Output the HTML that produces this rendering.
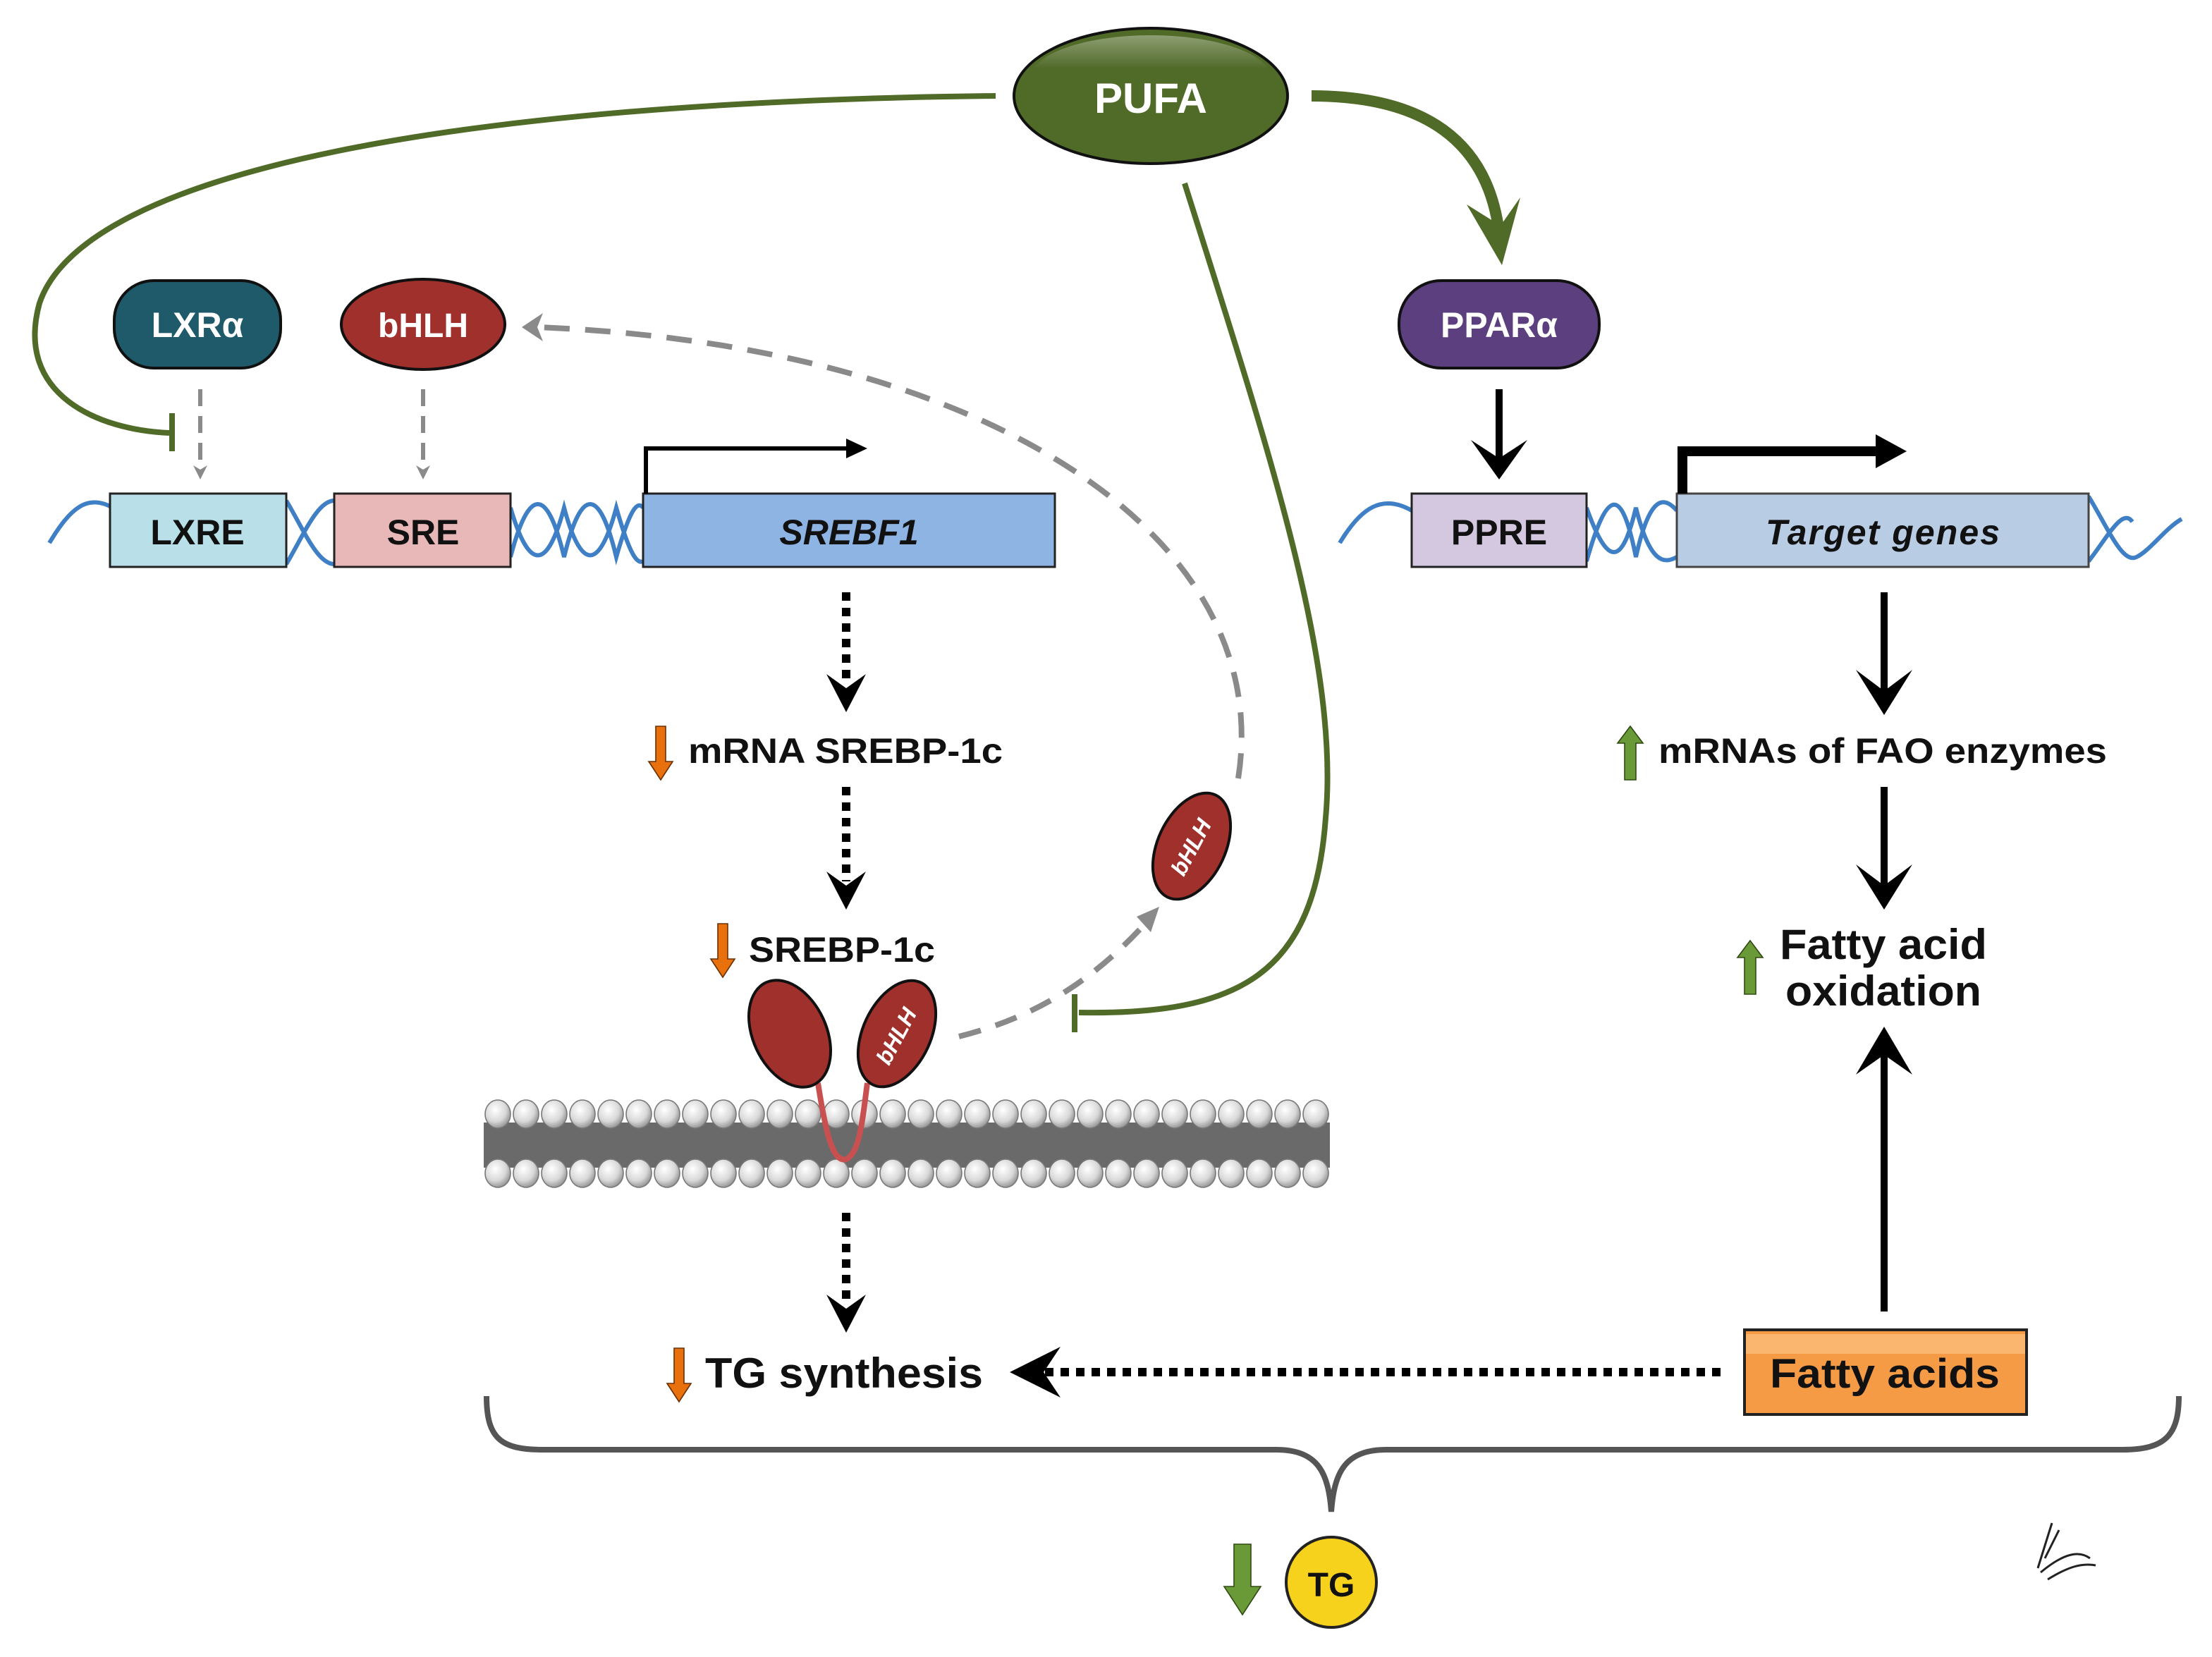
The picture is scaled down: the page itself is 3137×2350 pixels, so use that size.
<!DOCTYPE html>
<html><head><meta charset="utf-8"><style>
html,body{margin:0;padding:0;background:#fff;}
svg{display:block;}
text{font-family:"Liberation Sans",Arial,sans-serif;font-weight:bold;}
</style></head><body>
<svg width="3137" height="2350" viewBox="0 0 1568.5 1175" xmlns="http://www.w3.org/2000/svg">
<defs>
<radialGradient id="ball" cx="0.4" cy="0.35" r="0.7"><stop offset="0" stop-color="#fff"/><stop offset="0.6" stop-color="#d8d8d8"/><stop offset="1" stop-color="#8a8a8a"/></radialGradient>
<ellipse id="b" cx="0" cy="0" rx="9" ry="10" fill="url(#ball)" stroke="#777" stroke-width="0.8"/>
<linearGradient id="shine" x1="0" y1="0" x2="0" y2="1"><stop offset="0" stop-color="#fff" stop-opacity="0.35"/><stop offset="0.4" stop-color="#fff" stop-opacity="0"/></linearGradient>
<marker id="ga" markerWidth="10" markerHeight="10" refX="5" refY="5" orient="auto" markerUnits="userSpaceOnUse"><path d="M0,0 L10,5 L0,10 L3,5z" fill="#8a8a8a"/></marker>
</defs>

<path d="M706,68 C 330,72 60,120 28,215 C 10,280 70,305 120,307" fill="none" stroke="#506a28" stroke-width="4"/>
<line x1="122" y1="293" x2="122" y2="320" stroke="#506a28" stroke-width="4"/>
<path d="M840,130 C 900,320 950,470 940,580 C 932,690 880,720 765,718" fill="none" stroke="#506a28" stroke-width="4"/>
<line x1="762" y1="705" x2="762" y2="732" stroke="#506a28" stroke-width="4"/>
<path d="M930,68 C 1010,68 1055,100 1063,165" fill="none" stroke="#506a28" stroke-width="8"/>
<path d="M1040,145 L1065,188 L1078,140 L1064,160z" fill="#506a28"/>

<ellipse cx="816" cy="68" rx="97" ry="48" fill="#506a28" stroke="#111" stroke-width="2"/>
<ellipse cx="816" cy="55" rx="85" ry="30" fill="url(#shine)"/>
<text x="816" y="80" font-size="30" fill="#fff" text-anchor="middle">PUFA</text>

<rect x="81" y="199" width="118" height="62" rx="28" fill="#1e5a6a" stroke="#111" stroke-width="2"/>
<text x="140" y="239" font-size="25" fill="#fff" text-anchor="middle">LXRα</text>
<ellipse cx="300" cy="230" rx="58" ry="32" fill="#a0302c" stroke="#111" stroke-width="2"/>
<text x="300" y="239" font-size="24" fill="#fff" text-anchor="middle">bHLH</text>
<rect x="992" y="199" width="142" height="62" rx="30" fill="#5b3f7e" stroke="#111" stroke-width="2"/>
<text x="1063" y="239" font-size="25" fill="#fff" text-anchor="middle">PPARα</text>

<line x1="142" y1="276" x2="142" y2="335" stroke="#8a8a8a" stroke-width="3" stroke-dasharray="12,7" marker-end="url(#ga)"/>
<line x1="300" y1="276" x2="300" y2="335" stroke="#8a8a8a" stroke-width="3" stroke-dasharray="12,7" marker-end="url(#ga)"/>
<path d="M878,552 C 905,380 700,245 382,232" fill="none" stroke="#8a8a8a" stroke-width="4" stroke-dasharray="18,11"/>
<path d="M385,222 L370,232 L385,242 L381,232z" fill="#8a8a8a"/>
<path d="M680,735 C 740,720 780,690 812,655" fill="none" stroke="#8a8a8a" stroke-width="4" stroke-dasharray="16,11"/>
<path d="M806,650 L822,643 L816,661z" fill="#8a8a8a"/>

<g fill="none" stroke="#3f7fc5" stroke-width="3">
<path d="M35,385 C 50,360 62,350 80,360"/>
<path d="M203,355 C 215,375 225,400 237,400 M203,400 C 215,380 225,355 237,355"/>
<path d="M362,395 C 375,345 388,345 400,395 C 412,345 425,345 437,395 C 447,360 452,355 456,360 M362,360 C 375,405 388,405 400,360 C 412,405 425,405 437,360 C 447,395 452,400 456,398"/>
<path d="M950,385 C 965,360 980,350 1001,362"/>
<path d="M1125,398 C 1140,345 1150,345 1160,395 C 1170,350 1180,352 1189,362 M1125,360 C 1140,402 1150,402 1160,360 C 1170,400 1180,400 1189,395"/>
<path d="M1481,352 C 1495,375 1505,400 1515,395 C 1525,390 1535,375 1547,368 M1481,398 C 1495,380 1505,360 1512,370"/>
</g>
<rect x="78" y="350" width="125" height="52" fill="#b9e0e8" stroke="#222" stroke-width="1.5"/>
<text x="140" y="386" font-size="25" fill="#111" text-anchor="middle">LXRE</text>
<rect x="237" y="350" width="125" height="52" fill="#e8b8b8" stroke="#222" stroke-width="1.5"/>
<text x="300" y="386" font-size="25" fill="#111" text-anchor="middle">SRE</text>
<rect x="456" y="350" width="292" height="52" fill="#8db4e3" stroke="#222" stroke-width="1.5"/>
<text x="602" y="386" font-size="25" fill="#111" font-style="italic" text-anchor="middle">SREBF1</text>
<rect x="1001" y="350" width="124" height="52" fill="#d4c8e0" stroke="#222" stroke-width="1.5"/>
<text x="1063" y="386" font-size="25" fill="#111" text-anchor="middle">PPRE</text>
<rect x="1189" y="350" width="292" height="52" fill="#b8cce4" stroke="#444" stroke-width="1.5"/>
<text x="1335" y="386" font-size="25" fill="#111" font-style="italic" text-anchor="middle" textLength="166">Target genes</text>

<path d="M458,350 V318 H604" fill="none" stroke="#000" stroke-width="3"/>
<path d="M600,311 L615,318 L600,325z" fill="#000"/>
<path d="M1193,350 V320 H1335" fill="none" stroke="#000" stroke-width="7"/>
<path d="M1330,308 L1352,320 L1330,332z" fill="#000"/>

<g stroke="#000" stroke-width="5" fill="none">
<line x1="1063" y1="276" x2="1063" y2="325"/>
<line x1="1336" y1="420" x2="1336" y2="495"/>
<line x1="1336" y1="558" x2="1336" y2="632"/>
<line x1="1336" y1="930" x2="1336" y2="745"/>
</g>
<path d="M1043,312 L1063,340 L1083,312 L1063,325z" fill="#000"/>
<path d="M1316,475 L1336,507 L1356,475 L1336,490z" fill="#000"/>
<path d="M1316,613 L1336,645 L1356,613 L1336,628z" fill="#000"/>
<path d="M1316,762 L1336,728 L1356,762 L1336,748z" fill="#000"/>

<g stroke="#000" stroke-width="6" stroke-dasharray="6,5" fill="none">
<line x1="600" y1="420" x2="600" y2="485"/>
<line x1="600" y1="558" x2="600" y2="625"/>
<line x1="600" y1="860" x2="600" y2="925"/>
<line x1="1220" y1="973" x2="740" y2="973"/>
</g>
<path d="M586,478 L600,505 L614,478 L600,488z" fill="#000"/>
<path d="M586,618 L600,645 L614,618 L600,628z" fill="#000"/>
<path d="M586,918 L600,945 L614,918 L600,928z" fill="#000"/>
<path d="M752,955 L716,973 L752,991 L740,973z" fill="#000"/>

<g fill="#e8710e" stroke="#6a3000" stroke-width="0.8">
<path d="M465,515 h7 v25 h5 l-8.5,13 l-8.5,-13 h5z"/>
<path d="M509,655 h7 v25 h5 l-8.5,13 l-8.5,-13 h5z"/>
<path d="M478,956 h7 v25 h5 l-8.5,13 l-8.5,-13 h5z"/>
</g>
<g fill="#6a9a38" stroke="#2f4a10" stroke-width="0.8">
<path d="M1152,553 h8 v-26 h5 l-9,-12 l-9,12 h5z"/>
<path d="M1237,705 h8 v-26 h5 l-9,-12 l-9,12 h5z"/>
<path d="M875,1095 h12 v30 h7 l-13,20 l-13,-20 h7z"/>
</g>
<text x="488" y="541" font-size="25" fill="#111" textLength="223" lengthAdjust="spacingAndGlyphs">mRNA SREBP-1c</text>
<text x="531" y="682" font-size="25" fill="#111" textLength="132" lengthAdjust="spacingAndGlyphs">SREBP-1c</text>
<text x="1176" y="541" font-size="25" fill="#111" textLength="318" lengthAdjust="spacingAndGlyphs">mRNAs of FAO enzymes</text>
<text x="1262" y="680" font-size="30" fill="#111" textLength="147" lengthAdjust="spacingAndGlyphs">Fatty acid</text>
<text x="1266" y="713" font-size="30" fill="#111" textLength="139" lengthAdjust="spacingAndGlyphs">oxidation</text>
<text x="500" y="984" font-size="30" fill="#111" textLength="197" lengthAdjust="spacingAndGlyphs">TG synthesis</text>

<rect x="1237" y="943" width="200" height="60" fill="#f59a45" stroke="#222" stroke-width="2"/>
<rect x="1238" y="946" width="198" height="14" fill="#fcc280" opacity="0.7"/>
<text x="1255" y="984" font-size="29" fill="#111" textLength="163" lengthAdjust="spacingAndGlyphs">Fatty acids</text>

<!-- membrane -->
<rect x="343" y="796" width="600" height="32" fill="#6a6a6a"/>
<g transform="translate(0,790)">
<use href="#b" x="353"/><use href="#b" x="373"/><use href="#b" x="393"/><use href="#b" x="413"/><use href="#b" x="433"/><use href="#b" x="453"/><use href="#b" x="473"/><use href="#b" x="493"/><use href="#b" x="513"/><use href="#b" x="533"/><use href="#b" x="553"/><use href="#b" x="573"/><use href="#b" x="593"/><use href="#b" x="613"/><use href="#b" x="633"/><use href="#b" x="653"/><use href="#b" x="673"/><use href="#b" x="693"/><use href="#b" x="713"/><use href="#b" x="733"/><use href="#b" x="753"/><use href="#b" x="773"/><use href="#b" x="793"/><use href="#b" x="813"/><use href="#b" x="833"/><use href="#b" x="853"/><use href="#b" x="873"/><use href="#b" x="893"/><use href="#b" x="913"/><use href="#b" x="933"/>
</g>
<g transform="translate(0,832)">
<use href="#b" x="353"/><use href="#b" x="373"/><use href="#b" x="393"/><use href="#b" x="413"/><use href="#b" x="433"/><use href="#b" x="453"/><use href="#b" x="473"/><use href="#b" x="493"/><use href="#b" x="513"/><use href="#b" x="533"/><use href="#b" x="553"/><use href="#b" x="573"/><use href="#b" x="593"/><use href="#b" x="613"/><use href="#b" x="633"/><use href="#b" x="653"/><use href="#b" x="673"/><use href="#b" x="693"/><use href="#b" x="713"/><use href="#b" x="733"/><use href="#b" x="753"/><use href="#b" x="773"/><use href="#b" x="793"/><use href="#b" x="813"/><use href="#b" x="833"/><use href="#b" x="853"/><use href="#b" x="873"/><use href="#b" x="893"/><use href="#b" x="913"/><use href="#b" x="933"/>
</g>
<path d="M580,768 C 585,800 590,825 600,822 C 610,818 612,790 615,768" fill="none" stroke="#c85050" stroke-width="4"/>

<ellipse cx="560" cy="733" rx="26" ry="40" transform="rotate(-25 560 733)" fill="#a0302c" stroke="#111" stroke-width="2"/>
<ellipse cx="636" cy="733" rx="24" ry="40" transform="rotate(25 636 733)" fill="#a0302c" stroke="#111" stroke-width="2"/>
<text x="636" y="740" font-size="16" fill="#fff" font-style="italic" text-anchor="middle" transform="rotate(-62 636 735)">bHLH</text>
<ellipse cx="845" cy="600" rx="24" ry="40" transform="rotate(25 845 600)" fill="#a0302c" stroke="#111" stroke-width="2"/>
<text x="845" y="606" font-size="16" fill="#fff" font-style="italic" text-anchor="middle" transform="rotate(-62 845 601)">bHLH</text>

<path d="M345,990 C 345,1020 355,1028 385,1028 L905,1028 C 935,1028 942,1045 944,1072 C 946,1045 953,1028 983,1028 L1505,1028 C 1535,1028 1545,1018 1545,990" fill="none" stroke="#555" stroke-width="4"/>

<circle cx="944" cy="1122" r="32" fill="#f7d21c" stroke="#222" stroke-width="2"/>
<text x="944" y="1132" font-size="24" fill="#111" text-anchor="middle">TG</text>

<path d="M1445,1112 L1455,1080 M1450,1105 L1460,1085 M1447,1115 C 1465,1100 1475,1100 1482,1105 M1452,1120 C 1465,1112 1475,1108 1486,1110" fill="none" stroke="#222" stroke-width="1.5"/>
</svg>
</body></html>
